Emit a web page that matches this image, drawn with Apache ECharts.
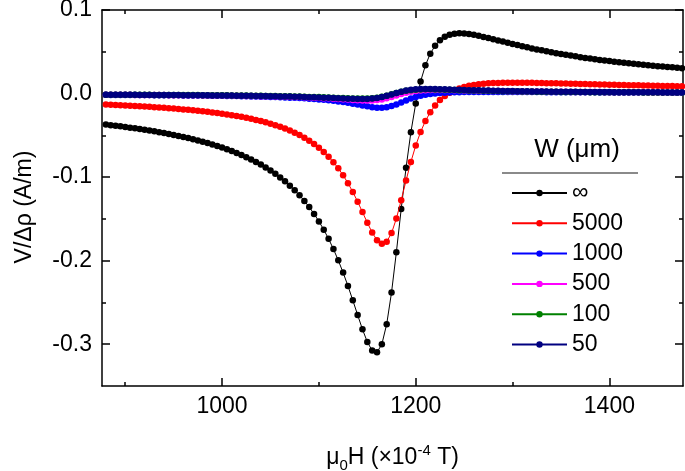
<!DOCTYPE html>
<html><head><meta charset="utf-8">
<script src="https://cdn.jsdelivr.net/npm/echarts@6/dist/echarts.min.js"></script>
<style>html,body{margin:0;padding:0;background:#fff}#c{width:685px;height:471px}</style>
</head><body><div id="c"></div>
<script>
// Field values (x10^-4 T)
const field = [
  880,885,890,895,900,905,910,915,920,925,
  930,935,940,945,950,955,960,965,970,975,
  980,985,990,995,1000,1005,1010,1015,1020,1025,
  1030,1035,1040,1045,1050,1055,1060,1065,1070,1075,
  1080,1085,1090,1095,1100,1105,1110,1115,1120,1125,
  1130,1135,1140,1145,1150,1155,1160,1165,1170,1175,
  1180,1185,1190,1195,1200,1205,1210,1215,1220,1225,
  1230,1235,1240,1245,1250,1255,1260,1265,1270,1275,
  1280,1285,1290,1295,1300,1305,1310,1315,1320,1325,
  1330,1335,1340,1345,1350,1355,1360,1365,1370,1375,
  1380,1385,1390,1395,1400,1405,1410,1415,1420,1425,
  1430,1435,1440,1445,1450,1455,1460,1465,1470,1475
];
const seriesNames = ['\u221E', '5000', '1000', '500', '100', '50'];
const wInf = [
  -0.0371,-0.0378,-0.0385,-0.0392,-0.0400,-0.0408,-0.0416,-0.0424,-0.0433,-0.0443,
  -0.0452,-0.0462,-0.0473,-0.0484,-0.0495,-0.0507,-0.0519,-0.0533,-0.0546,-0.0561,
  -0.0576,-0.0592,-0.0609,-0.0627,-0.0646,-0.0667,-0.0688,-0.0711,-0.0735,-0.0761,
  -0.0788,-0.0818,-0.0850,-0.0884,-0.0921,-0.0961,-0.1004,-0.1051,-0.1102,-0.1157,
  -0.1218,-0.1285,-0.1359,-0.1440,-0.1530,-0.1629,-0.1739,-0.1861,-0.1996,-0.2143,
  -0.2303,-0.2474,-0.2650,-0.2822,-0.2973,-0.3076,-0.3097,-0.3000,-0.2760,-0.2380,
  -0.1899,-0.1381,-0.0888,-0.0462,-0.0118,0.0145,0.0338,0.0477,0.0573,0.0638,
  0.0680,0.0704,0.0717,0.0721,0.0719,0.0712,0.0703,0.0691,0.0678,0.0665,
  0.0650,0.0636,0.0622,0.0607,0.0593,0.0580,0.0566,0.0553,0.0540,0.0528,
  0.0517,0.0505,0.0494,0.0483,0.0473,0.0463,0.0454,0.0445,0.0436,0.0427,
  0.0419,0.0411,0.0403,0.0396,0.0389,0.0382,0.0375,0.0368,0.0362,0.0356,
  0.0350,0.0344,0.0339,0.0334,0.0328,0.0323,0.0318,0.0314,0.0309,0.0304
];
const w5000 = [
  -0.0132,-0.0134,-0.0137,-0.0140,-0.0143,-0.0146,-0.0149,-0.0152,-0.0156,-0.0159,
  -0.0163,-0.0167,-0.0171,-0.0176,-0.0180,-0.0185,-0.0190,-0.0195,-0.0201,-0.0207,
  -0.0213,-0.0219,-0.0226,-0.0234,-0.0242,-0.0250,-0.0259,-0.0269,-0.0279,-0.0290,
  -0.0302,-0.0315,-0.0329,-0.0344,-0.0360,-0.0378,-0.0397,-0.0418,-0.0442,-0.0468,
  -0.0496,-0.0528,-0.0564,-0.0604,-0.0648,-0.0699,-0.0756,-0.0821,-0.0894,-0.0978,
  -0.1072,-0.1177,-0.1294,-0.1419,-0.1545,-0.1663,-0.1755,-0.1798,-0.1774,-0.1670,
  -0.1496,-0.1276,-0.1041,-0.0818,-0.0622,-0.0459,-0.0328,-0.0224,-0.0142,-0.0078,
  -0.0029,0.0009,0.0038,0.0061,0.0079,0.0093,0.0103,0.0111,0.0117,0.0122,
  0.0125,0.0127,0.0129,0.0129,0.0130,0.0130,0.0129,0.0129,0.0128,0.0127,
  0.0126,0.0124,0.0123,0.0122,0.0120,0.0119,0.0117,0.0116,0.0114,0.0113,
  0.0111,0.0110,0.0108,0.0107,0.0106,0.0104,0.0103,0.0101,0.0100,0.0099,
  0.0098,0.0096,0.0095,0.0094,0.0093,0.0091,0.0090,0.0089,0.0088,0.0087
];
const w1000 = [
  -0.0015,-0.0016,-0.0016,-0.0016,-0.0017,-0.0017,-0.0017,-0.0018,-0.0018,-0.0018,
  -0.0019,-0.0019,-0.0020,-0.0020,-0.0021,-0.0021,-0.0022,-0.0022,-0.0023,-0.0024,
  -0.0024,-0.0025,-0.0026,-0.0026,-0.0027,-0.0028,-0.0029,-0.0030,-0.0031,-0.0033,
  -0.0034,-0.0035,-0.0037,-0.0038,-0.0040,-0.0042,-0.0044,-0.0046,-0.0049,-0.0051,
  -0.0054,-0.0057,-0.0061,-0.0065,-0.0070,-0.0075,-0.0080,-0.0087,-0.0094,-0.0102,
  -0.0111,-0.0121,-0.0131,-0.0142,-0.0153,-0.0163,-0.0169,-0.0169,-0.0163,-0.0150,
  -0.0130,-0.0107,-0.0082,-0.0060,-0.0042,-0.0026,-0.0015,-0.0005,0.0002,0.0007,
  0.0011,0.0014,0.0016,0.0017,0.0018,0.0019,0.0020,0.0020,0.0020,0.0020,
  0.0020,0.0020,0.0020,0.0020,0.0019,0.0019,0.0019,0.0018,0.0018,0.0018,
  0.0018,0.0017,0.0017,0.0017,0.0016,0.0016,0.0016,0.0016,0.0015,0.0015,
  0.0015,0.0015,0.0014,0.0014,0.0014,0.0014,0.0014,0.0013,0.0013,0.0013,
  0.0013,0.0013,0.0012,0.0012,0.0012,0.0012,0.0012,0.0011,0.0011,0.0011
];
const w500 = [
  -0.0014,-0.0014,-0.0015,-0.0015,-0.0015,-0.0015,-0.0016,-0.0016,-0.0017,-0.0017,
  -0.0017,-0.0018,-0.0018,-0.0019,-0.0019,-0.0019,-0.0020,-0.0020,-0.0021,-0.0021,
  -0.0022,-0.0022,-0.0023,-0.0023,-0.0024,-0.0024,-0.0025,-0.0026,-0.0027,-0.0028,
  -0.0029,-0.0030,-0.0031,-0.0032,-0.0033,-0.0034,-0.0036,-0.0038,-0.0039,-0.0041,
  -0.0042,-0.0045,-0.0047,-0.0050,-0.0051,-0.0055,-0.0057,-0.0061,-0.0064,-0.0068,
  -0.0072,-0.0076,-0.0080,-0.0082,-0.0083,-0.0082,-0.0078,-0.0070,-0.0056,-0.0040,
  -0.0022,-0.0005,0.0011,0.0023,0.0032,0.0037,0.0040,0.0042,0.0043,0.0044,
  0.0043,0.0042,0.0041,0.0039,0.0038,0.0036,0.0036,0.0035,0.0034,0.0033,
  0.0031,0.0031,0.0030,0.0029,0.0028,0.0027,0.0026,0.0025,0.0025,0.0024,
  0.0024,0.0023,0.0022,0.0022,0.0021,0.0021,0.0020,0.0020,0.0019,0.0019,
  0.0018,0.0018,0.0018,0.0017,0.0017,0.0017,0.0016,0.0016,0.0015,0.0015,
  0.0015,0.0015,0.0014,0.0014,0.0014,0.0014,0.0013,0.0013,0.0013,0.0013
];
const w100 = [
  -0.0013,-0.0013,-0.0013,-0.0013,-0.0014,-0.0014,-0.0014,-0.0015,-0.0015,-0.0015,
  -0.0016,-0.0016,-0.0016,-0.0017,-0.0017,-0.0017,-0.0017,-0.0018,-0.0018,-0.0018,
  -0.0019,-0.0019,-0.0020,-0.0020,-0.0021,-0.0021,-0.0022,-0.0023,-0.0024,-0.0024,
  -0.0025,-0.0026,-0.0027,-0.0028,-0.0029,-0.0029,-0.0031,-0.0032,-0.0033,-0.0035,
  -0.0036,-0.0038,-0.0040,-0.0041,-0.0042,-0.0045,-0.0047,-0.0050,-0.0052,-0.0054,
  -0.0056,-0.0058,-0.0060,-0.0060,-0.0059,-0.0055,-0.0049,-0.0039,-0.0025,-0.0009,
  0.0006,0.0021,0.0033,0.0041,0.0047,0.0050,0.0051,0.0051,0.0050,0.0049,
  0.0047,0.0045,0.0043,0.0041,0.0040,0.0038,0.0037,0.0036,0.0034,0.0033,
  0.0031,0.0030,0.0029,0.0029,0.0028,0.0027,0.0026,0.0025,0.0024,0.0023,
  0.0023,0.0022,0.0021,0.0021,0.0020,0.0020,0.0019,0.0019,0.0018,0.0018,
  0.0017,0.0017,0.0017,0.0017,0.0017,0.0016,0.0016,0.0015,0.0015,0.0015,
  0.0015,0.0014,0.0014,0.0014,0.0014,0.0013,0.0013,0.0013,0.0013,0.0012
];
const w50 = [
  -0.0014,-0.0014,-0.0014,-0.0014,-0.0015,-0.0015,-0.0015,-0.0016,-0.0016,-0.0016,
  -0.0017,-0.0017,-0.0017,-0.0018,-0.0018,-0.0018,-0.0019,-0.0019,-0.0020,-0.0020,
  -0.0021,-0.0021,-0.0022,-0.0022,-0.0023,-0.0023,-0.0024,-0.0025,-0.0026,-0.0026,
  -0.0027,-0.0028,-0.0029,-0.0030,-0.0031,-0.0032,-0.0034,-0.0035,-0.0036,-0.0038,
  -0.0039,-0.0041,-0.0043,-0.0045,-0.0046,-0.0049,-0.0051,-0.0054,-0.0056,-0.0059,
  -0.0061,-0.0063,-0.0065,-0.0065,-0.0064,-0.0060,-0.0053,-0.0042,-0.0027,-0.0010,
  0.0007,0.0023,0.0036,0.0045,0.0051,0.0054,0.0055,0.0055,0.0054,0.0053,
  0.0051,0.0049,0.0047,0.0045,0.0043,0.0041,0.0040,0.0039,0.0037,0.0036,
  0.0034,0.0033,0.0032,0.0031,0.0030,0.0029,0.0028,0.0027,0.0026,0.0025,
  0.0025,0.0024,0.0023,0.0023,0.0022,0.0022,0.0021,0.0021,0.0020,0.0020,
  0.0019,0.0019,0.0018,0.0018,0.0018,0.0017,0.0017,0.0016,0.0016,0.0016,
  0.0016,0.0015,0.0015,0.0015,0.0015,0.0014,0.0014,0.0014,0.0014,0.0013
];
const xMajorTicks = [1000, 1200, 1400];
const xMinorTicks = [900, 1100, 1300];
const yMajorTicks = [-0.3, -0.2, -0.1, 0, 0.1];
const yMinorTicks = [-0.25, -0.15, -0.05, 0.05];

const allValues = [wInf, w5000, w1000, w500, w100, w50];
const colors = ['#000000', '#ff0000', '#0000ff', '#ff00ff', '#008000', '#000080'];
const FONT = '"Liberation Sans", Arial, sans-serif';
const XMIN = 876, XMAX = 1476, YMIN = -0.35, YMAX = 0.1;

function xAx(pos, ticks, len, showLine, showLabel, extra) {
  return Object.assign({
    type: 'value', gridIndex: 0, position: pos, min: XMIN, max: XMAX,
    axisLine: { show: showLine, onZero: false, lineStyle: { color: '#000', width: 1.5 } },
    axisTick: { show: true, inside: true, length: len, customValues: ticks, lineStyle: { color: '#000', width: 1.5 } },
    axisLabel: { show: showLabel, customValues: ticks, margin: 9, fontSize: 23, fontFamily: FONT, color: '#000',
      formatter: v => String(Math.round(v)) },
    splitLine: { show: false }
  }, extra || {});
}
function yAx(pos, ticks, len, showLine, showLabel, extra) {
  return Object.assign({
    type: 'value', gridIndex: 0, position: pos, min: YMIN, max: YMAX,
    axisLine: { show: showLine, onZero: false, lineStyle: { color: '#000', width: 1.5 } },
    axisTick: { show: true, inside: true, length: len, customValues: ticks, lineStyle: { color: '#000', width: 1.5 } },
    axisLabel: { show: showLabel, customValues: ticks, margin: 10, fontSize: 23, fontFamily: FONT, color: '#000',
      formatter: v => v.toFixed(1) },
    splitLine: { show: false }
  }, extra || {});
}

const chart = echarts.init(document.getElementById('c'), null, { renderer: 'canvas' });
chart.setOption({
  animation: false,
  backgroundColor: '#fff',
  grid: { left: 102, right: 2, top: 10, bottom: 85, containLabel: false, outerBoundsMode: 'none' },
  xAxis: [
    xAx('bottom', xMajorTicks, 8, true, true, {
      name: '{a|\u03BC}{sub|0}{a|H (\u00D710}{sup|-4}{a| T)}',
      nameLocation: 'middle', nameGap: 57,
      nameTextStyle: { fontFamily: FONT, color: '#000',
        rich: {
          a: { fontSize: 23, lineHeight: 30, verticalAlign: 'middle', fontFamily: FONT, color: '#000' },
          sub: { fontSize: 15, lineHeight: 15, verticalAlign: 'bottom', fontFamily: FONT, color: '#000' },
          sup: { fontSize: 15, lineHeight: 22, verticalAlign: 'top', fontFamily: FONT, color: '#000' }
        } }
    }),
    xAx('bottom', xMinorTicks, 4, false, false),
    xAx('top', xMajorTicks, 8, true, false),
    xAx('top', xMinorTicks, 4, false, false)
  ],
  yAxis: [
    yAx('left', yMajorTicks, 8, true, true, {
      name: 'V/\u0394\u03C1 (A/m)', nameLocation: 'middle', nameGap: 66,
      nameTextStyle: { fontSize: 23, fontFamily: FONT, color: '#000', padding: [0, 18, 0, 0] }
    }),
    yAx('left', yMinorTicks, 4, false, false),
    yAx('right', yMajorTicks, 8, true, false),
    yAx('right', yMinorTicks, 4, false, false)
  ],
  legend: {
    orient: 'vertical', left: 511, top: 181, padding: 0,
    itemWidth: 55, itemHeight: 8, itemGap: 6.3,
    textStyle: { fontSize: 23, lineHeight: 24, fontFamily: FONT, color: '#000' },
    data: seriesNames
  },
  graphic: [
    { type: 'text', x: 577, y: 150,
      style: { text: 'W (\u03BCm)', fontSize: 26, fontFamily: FONT, fill: '#000', align: 'center', verticalAlign: 'middle' } },
    { type: 'line', shape: { x1: 502, y1: 173, x2: 638, y2: 173 }, style: { stroke: '#8a8a8a', lineWidth: 2 } }
  ],
  series: seriesNames.map((n, k) => ({
    name: n, type: 'line', xAxisIndex: 0, yAxisIndex: 0,
    data: field.map((x, i) => [x, allValues[k][i]]),
    symbol: 'circle', symbolSize: 6.5, showSymbol: true,
    lineStyle: { color: colors[k], width: 1 },
    itemStyle: { color: colors[k] },
    emphasis: { disabled: true },
    clip: true, z: 2 + k
  }))
});
</script>
</body></html>
